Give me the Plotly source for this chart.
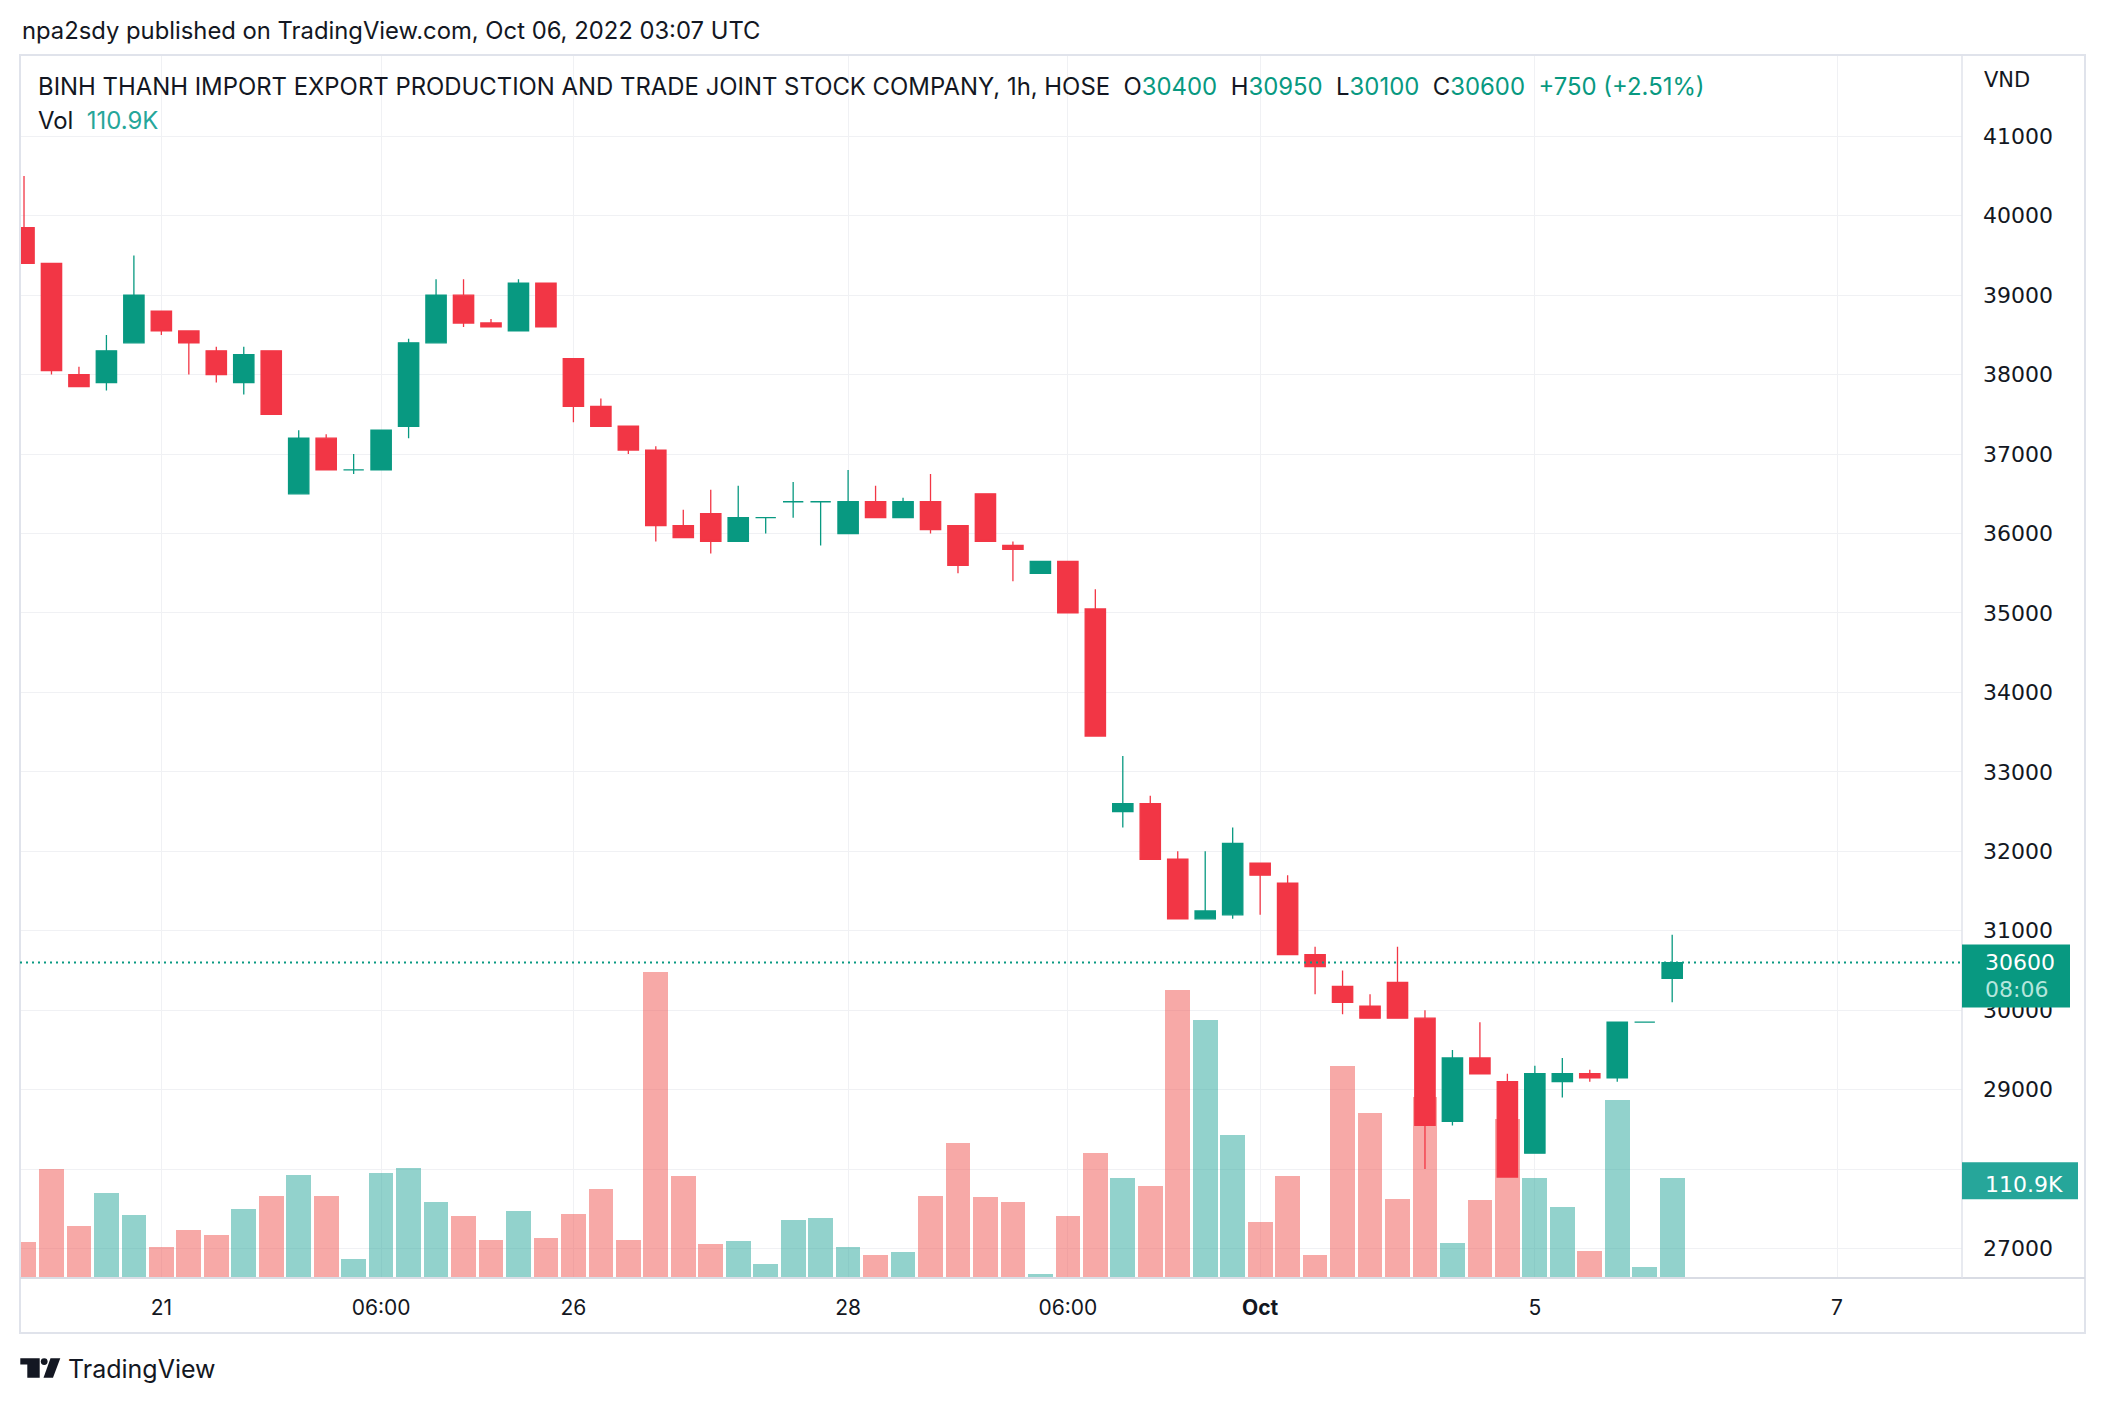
import plotly.graph_objects as go

# ---------------- data ----------------
open_ = [39850, 39400, 38000, 37900, 38400, 38800, 38550, 38300, 37900, 38300,
         36500, 37200, 36800, 36800, 37350, 38400, 39000, 38650, 38550, 39150,
         38200, 37600, 37350, 37050, 36100, 36250, 35900, 36200, 36400, 36400,
         36000, 36400, 36200, 36400, 36100, 36500, 35850, 35500, 35650, 35050,
         32500, 32600, 31900, 31150, 31200, 31850, 31600, 30700, 30300, 30050,
         30350, 29900, 28600, 29400, 29100, 28200, 29100, 29200, 29150, 29850,
         30400]
high = [40500, 39400, 38100, 38500, 39500, 38800, 38550, 38350, 38350, 38300,
        37300, 37250, 37000, 37300, 38450, 39200, 39200, 38700, 39200, 39150,
        38200, 37700, 37350, 37100, 36300, 36550, 36600, 36200, 36650, 36400,
        36800, 36600, 36450, 36750, 36100, 36500, 35900, 35650, 35650, 35300,
        33200, 32700, 32000, 32000, 32300, 31850, 31700, 30800, 30500, 30200,
        30800, 30000, 29500, 29850, 29200, 29300, 29400, 29250, 29850, 29850,
        30950]
low = [39400, 38000, 37850, 37800, 38400, 38500, 38000, 37900, 37750, 37500,
       36500, 36800, 36750, 36800, 37200, 38400, 38600, 38600, 38550, 38600,
       37400, 37350, 37000, 35900, 35950, 35750, 35900, 36000, 36200, 35850,
       36000, 36200, 36200, 36000, 35500, 35900, 35400, 35500, 35000, 33450,
       32300, 31900, 31150, 31150, 31150, 31200, 30700, 30200, 29950, 29900,
       29900, 28000, 28550, 29200, 27900, 28200, 28900, 29100, 29100, 29850,
       30100]
close = [39400, 38050, 37850, 38300, 39000, 38550, 38400, 38000, 38250, 37500,
         37200, 36800, 36800, 37300, 38400, 39000, 38650, 38600, 39150, 38600,
         37600, 37350, 37050, 36100, 35950, 35900, 36200, 36200, 36400, 36400,
         36400, 36200, 36400, 36050, 35600, 35900, 35800, 35650, 35000, 33450,
         32600, 31900, 31150, 31250, 32100, 31700, 30700, 30550, 30100, 29900,
         29900, 28550, 29400, 29200, 27900, 29200, 29200, 29150, 29850, 29850,
         30600]
volume_k = [39.0, 121.0, 57.0, 94.0, 69.3, 33.3, 52.5, 46.8, 76.1, 90.7,
            114.3, 90.7, 19.9, 116.5, 122.1, 83.9, 68.2, 41.2, 73.8, 43.5,
            70.4, 98.5, 41.2, 342.5, 113.2, 36.7, 40.1, 14.2, 63.7, 65.9,
            33.3, 24.4, 27.7, 90.7, 150.3, 89.6, 83.9, 3.0, 68.2, 139.0,
            110.9, 101.9, 322.2, 288.5, 159.2, 61.5, 113.2, 24.4, 236.8, 184.0,
            87.3, 202.0, 37.8, 86.2, 177.2, 110.9, 78.3, 28.9, 198.6, 10.9,
            110.9]

time_tick_pos = [5, 13, 20, 30, 38, 45, 55, 66]
time_tick_text = ["21", "06:00", "26", "28", "06:00", "<b>Oct</b>", "5", "7"]
price_ticks = [27000, 28000, 29000, 30000, 31000, 32000, 33000, 34000,
               35000, 36000, 37000, 38000, 39000, 40000, 41000]
# labels that TradingView hides behind the volume label
hidden_price_labels = [28000]

title_text = "npa2sdy published on TradingView.com, Oct 06, 2022 03:07 UTC"
symbol_text = "BINH THANH IMPORT EXPORT PRODUCTION AND TRADE JOINT STOCK COMPANY, 1h, HOSE"
countdown = "08:06"

# ---------------- styling ----------------
UP = "#089981"
DOWN = "#F23645"
UP_VOL = "rgba(38,166,154,0.5)"
DOWN_VOL = "rgba(239,83,80,0.5)"
TEXT = "#131722"
GRID = "#F0F1F4"
BORDER = "#E0E3EB"
FONT = "Inter"
AXFONT = "DejaVu Sans"

W, H = 2106, 1404
PL, PR, PT, PB = 20, 1962, 55, 1277  # plot area in px
PRICE_RANGE = [26642, 42023]
VOL_MAX = 1373.0
X_RANGE = [-0.146, 70.55]


def px_x(p):
    return (p - PL) / (PR - PL)


def px_y(p):
    return (PB - p) / (PB - PT)


def price_y(v):
    return (v - PRICE_RANGE[0]) / (PRICE_RANGE[1] - PRICE_RANGE[0])


n = len(close)
xs = list(range(n))
up = [close[i] >= open_[i] for i in xs]
ui = [i for i in xs if up[i]]
di = [i for i in xs if not up[i]]

fig = go.Figure()

fig.add_trace(go.Bar(x=[xs[i] for i in ui], y=[volume_k[i] for i in ui],
                     marker=dict(color=UP_VOL, line=dict(width=0)), width=0.9,
                     yaxis="y", hoverinfo="skip", showlegend=False))
fig.add_trace(go.Bar(x=[xs[i] for i in di], y=[volume_k[i] for i in di],
                     marker=dict(color=DOWN_VOL, line=dict(width=0)), width=0.9,
                     yaxis="y", hoverinfo="skip", showlegend=False))

for idx, col in ((ui, UP), (di, DOWN)):
    fig.add_trace(go.Candlestick(
        x=[xs[i] for i in idx],
        open=[open_[i] for i in idx], high=[high[i] for i in idx],
        low=[low[i] for i in idx], close=[close[i] for i in idx],
        increasing=dict(fillcolor=col, line=dict(color=col, width=1.3)),
        decreasing=dict(fillcolor=col, line=dict(color=col, width=1.3)),
        whiskerwidth=0, yaxis="y2", showlegend=False, hoverinfo="skip"))

last = close[-1]
chg = close[-1] - close[-2]
pct = chg / close[-2] * 100
sign = "+" if chg >= 0 else ""
chg_col = UP if chg >= 0 else DOWN

nb = "\u00a0"
header = (symbol_text + nb * 2 +
          f"O<span style='color:{chg_col}'>{open_[-1]}</span>" + nb * 2 +
          f"H<span style='color:{chg_col}'>{high[-1]}</span>" + nb * 2 +
          f"L<span style='color:{chg_col}'>{low[-1]}</span>" + nb * 2 +
          f"C<span style='color:{chg_col}'>{close[-1]}</span>" + nb * 2 +
          f"<span style='color:{chg_col}'>{sign}{chg} ({sign}{pct:.2f}%)</span>")
vol_header = f"Vol{nb * 2}<span style='color:#26A69A'>{volume_k[-1]:.1f}K</span>"

annotations = [
    dict(text=title_text, x=px_x(20), y=px_y(31), font=dict(size=23.8, color=TEXT)),
    dict(text=header, x=px_x(36), y=px_y(86), font=dict(size=23.9, color=TEXT)),
    dict(text=vol_header, x=px_x(36), y=px_y(120), font=dict(size=23.9, color=TEXT)),
    dict(text="VND", x=px_x(1982), y=px_y(80), font=dict(size=21, color=TEXT, family=AXFONT)),
    dict(text=f"{last}", x=px_x(1983), y=price_y(last), yshift=0,
         font=dict(size=22, color="white", family=AXFONT)),
    dict(text=countdown, x=px_x(1983), y=price_y(last), yshift=-27,
         font=dict(size=22, color="#B5E6DC", family=AXFONT)),
    dict(text=f"{volume_k[-1]:.1f}K", x=px_x(1983), y=volume_k[-1] / VOL_MAX,
         yshift=-6, font=dict(size=22, color="white", family=AXFONT)),
    dict(text="TradingView", x=px_x(66), y=px_y(1369), font=dict(size=25, color=TEXT)),
]
for a in annotations:
    a.update(xref="paper", yref="paper", xanchor="left", yanchor="middle",
             showarrow=False, align="left")

shapes = [
    # outer frame
    dict(type="rect", xref="paper", yref="paper", x0=px_x(20), x1=px_x(2085),
         y0=px_y(1333), y1=px_y(55), line=dict(color=BORDER, width=2), layer="above"),
    # time axis separator
    dict(type="line", xref="paper", yref="paper", x0=px_x(20), x1=px_x(2085),
         y0=px_y(1278), y1=px_y(1278), line=dict(color="#D9DCE4", width=2), layer="above"),
    # price axis separator
    dict(type="line", xref="paper", yref="paper", x0=px_x(1962), x1=px_x(1962),
         y0=px_y(1278), y1=px_y(55), line=dict(color=BORDER, width=1.5), layer="above"),
    # last price dotted line
    dict(type="line", xref="paper", yref="paper", x0=0, x1=1,
         y0=price_y(last), y1=price_y(last),
         line=dict(color=UP, width=2, dash="2px,4px"), layer="above"),
    # last price label box
    dict(type="rect", xref="paper", yref="paper", x0=px_x(1962), x1=px_x(2070),
         y0=price_y(last) - 45 / (PB - PT), y1=price_y(last) + 18 / (PB - PT),
         fillcolor=UP, line=dict(width=0), layer="above"),
    # volume label box
    dict(type="rect", xref="paper", yref="paper", x0=px_x(1962), x1=px_x(2078),
         y0=volume_k[-1] / VOL_MAX - 21 / (PB - PT), y1=volume_k[-1] / VOL_MAX + 16 / (PB - PT),
         fillcolor="#26A69A", line=dict(width=0), layer="above"),
    # TradingView logo mark
    dict(type="path", xref="paper", yref="paper", fillcolor=TEXT, line=dict(width=0),
         path=(f"M {px_x(20.3)},{px_y(1358.3)} L {px_x(39.7)},{px_y(1358.3)} "
               f"L {px_x(39.7)},{px_y(1377.7)} L {px_x(27.3)},{px_y(1377.7)} "
               f"L {px_x(27.3)},{px_y(1364.5)} L {px_x(20.3)},{px_y(1364.5)} Z")),
    dict(type="circle", xref="paper", yref="paper", fillcolor=TEXT, line=dict(width=0),
         x0=px_x(40.8), x1=px_x(47.6), y0=px_y(1365.0), y1=px_y(1358.2)),
    dict(type="path", xref="paper", yref="paper", fillcolor=TEXT, line=dict(width=0),
         path=(f"M {px_x(50.5)},{px_y(1358.3)} L {px_x(60.3)},{px_y(1358.3)} "
               f"L {px_x(53.0)},{px_y(1377.7)} L {px_x(43.5)},{px_y(1377.7)} Z")),
]

fig.update_layout(
    width=W, height=H,
    margin=dict(l=PL, r=W - PR, t=PT, b=H - PB, pad=0),
    paper_bgcolor="white", plot_bgcolor="white",
    font=dict(family=FONT, color=TEXT, size=21),
    showlegend=False, barmode="overlay", bargap=0,
    boxgap=0.26, boxgroupgap=0, boxmode="overlay",
    xaxis=dict(range=X_RANGE, tickmode="array", tickvals=time_tick_pos,
               ticktext=time_tick_text, showgrid=True, gridcolor=GRID, gridwidth=1,
               zeroline=False, showline=False, ticks="", ticklabelstandoff=16,
               tickfont=dict(size=21, color=TEXT, family=FONT),
               rangeslider=dict(visible=False), fixedrange=True),
    yaxis=dict(range=[0, VOL_MAX], visible=False, showgrid=False, zeroline=False,
               fixedrange=True),
    yaxis2=dict(range=PRICE_RANGE, overlaying="y", side="right", anchor="x",
                tickmode="array", tickvals=price_ticks,
                ticktext=["" if v in hidden_price_labels else str(v) for v in price_ticks],
                showgrid=True, gridcolor=GRID, gridwidth=1, zeroline=False,
                showline=False, ticks="", ticklabelstandoff=20,
                tickfont=dict(size=22, color=TEXT, family=AXFONT), fixedrange=True),
    annotations=annotations, shapes=shapes,
)

fig.write_html("out.html")
